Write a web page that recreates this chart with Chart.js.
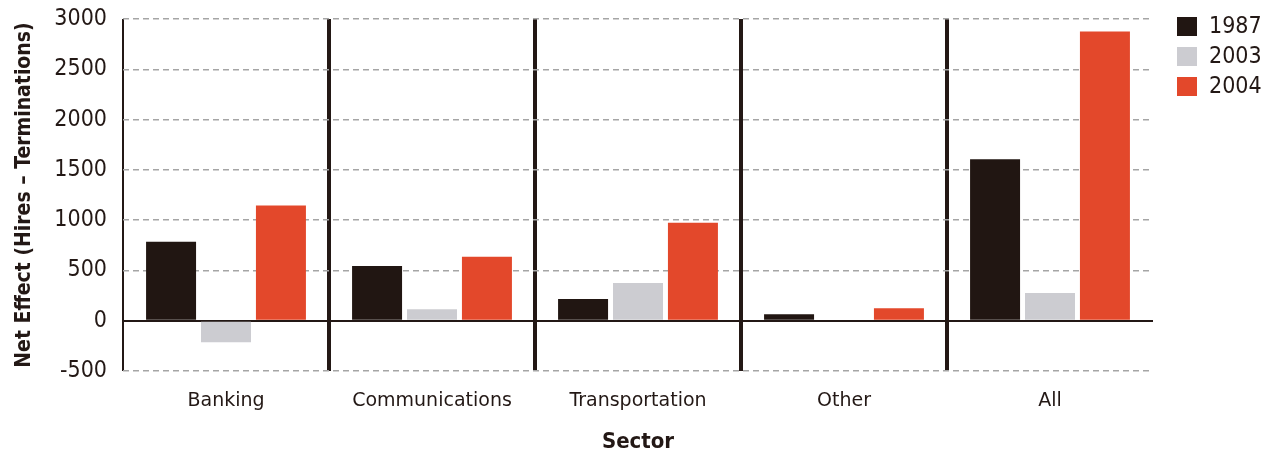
<!DOCTYPE html>
<html>
<head>
<meta charset="utf-8">
<script src="https://cdn.jsdelivr.net/npm/chart.js@4/dist/chart.umd.min.js"></script>
<style>
  html, body { margin: 0; padding: 0; background: #fff; }
  #wrap { width: 1263px; height: 453px; }
</style>
</head>
<body>
<div id="wrap"><canvas id="chart" width="1263" height="453"></canvas></div>
<script>
// values
const sectors = ['Banking', 'Communications', 'Transportation', 'Other', 'All'];
const years = ['1987', '2003', '2004'];
const values1987 = [785, 545, 215, 65, 1605];
const values2003 = [-215, 115, 375, 10, 275];
const values2004 = [1145, 635, 975, 125, 2875];
const yTicks = [-500, 0, 500, 1000, 1500, 2000, 2500, 3000];

const colors = ['#211612', '#ccccd1', '#e3482b'];
const textColor = '#231815';
const narrow = '"Liberation Sans Narrow", "DejaVu Sans Condensed", Roboto, sans-serif';

// simple legend on the right, boxes + year labels
const sideLegend = {
    id: 'sideLegend',
    afterDraw(chart) {
        const ctx = chart.ctx;
        ctx.save();
        ctx.font = '23px ' + narrow;
        ctx.textBaseline = 'middle';
        ctx.textAlign = 'left';
        chart.data.datasets.forEach(function (ds, i) {
            const cy = 26 + i * 30;
            ctx.fillStyle = ds.backgroundColor;
            ctx.fillRect(1177, cy - 9, 20, 19);
            ctx.fillStyle = textColor;
            ctx.fillText(ds.label, 1209, cy + 1);
        });
        ctx.restore();
    }
};

const ctx = document.getElementById('chart').getContext('2d');
new Chart(ctx, {
    type: 'bar',
    data: {
        labels: sectors,
        datasets: [
            { label: years[0], data: values1987, backgroundColor: colors[0] },
            { label: years[1], data: values2003, backgroundColor: colors[1] },
            { label: years[2], data: values2004, backgroundColor: colors[2] }
        ]
    },
    options: {
        responsive: false,
        animation: false,
        layout: { padding: { top: 19, right: 110, bottom: 0, left: 0 } },
        categoryPercentage: 0.8,
        barPercentage: 0.91,
        plugins: {
            legend: { display: false },
            tooltip: { enabled: false }
        },
        scales: {
            x: {
                afterFit: function (scale) { scale.height = 82; },
                border: { display: false },
                grid: {
                    offset: true,
                    drawTicks: false,
                    color: textColor,
                    lineWidth: function (c) {
                        if (c.type !== 'tick') return 0; // right edge: no line
                        return c.index === 0 ? 2 : 4;
                    }
                },
                ticks: {
                    padding: 19,
                    color: textColor,
                    font: { family: '"DejaVu Sans"', size: 19 }
                },
                title: {
                    display: true,
                    text: 'Sector',
                    color: textColor,
                    padding: { top: 0, bottom: 0 },
                    font: { family: narrow, weight: 'bold', size: 22, lineHeight: 1 }
                }
            },
            y: {
                min: -500,
                max: 3000,
                afterFit: function (scale) {
                    scale.width = 123;
                    // keep the plot top/bottom from growing for label overflow
                    scale.paddingTop = 0;
                    scale.paddingBottom = 0;
                },
                afterBuildTicks: function (scale) {
                    scale.ticks = yTicks.map(v => ({ value: v }));
                },
                border: {
                    display: false,
                    dash: function (c) { return (c.tick && c.tick.value === 0) ? [] : [6, 4]; }
                },
                grid: {
                    drawTicks: false,
                    color: function (c) { return (c.tick && c.tick.value === 0) ? textColor : '#a5a5a5'; },
                    lineWidth: function (c) { return (c.tick && c.tick.value === 0) ? 2 : 1.5; }
                },
                ticks: {
                    padding: 16,
                    color: textColor,
                    font: { family: narrow, size: 23 },
                    callback: function (v) { return String(v); }
                },
                title: {
                    display: true,
                    text: 'Net Effect (Hires \u2013 Terminations)',
                    color: textColor,
                    padding: { top: 12, bottom: 0 },
                    font: { family: narrow, weight: 'bold', size: 21 }
                }
            }
        }
    },
    plugins: [sideLegend]
});
</script>
</body>
</html>
